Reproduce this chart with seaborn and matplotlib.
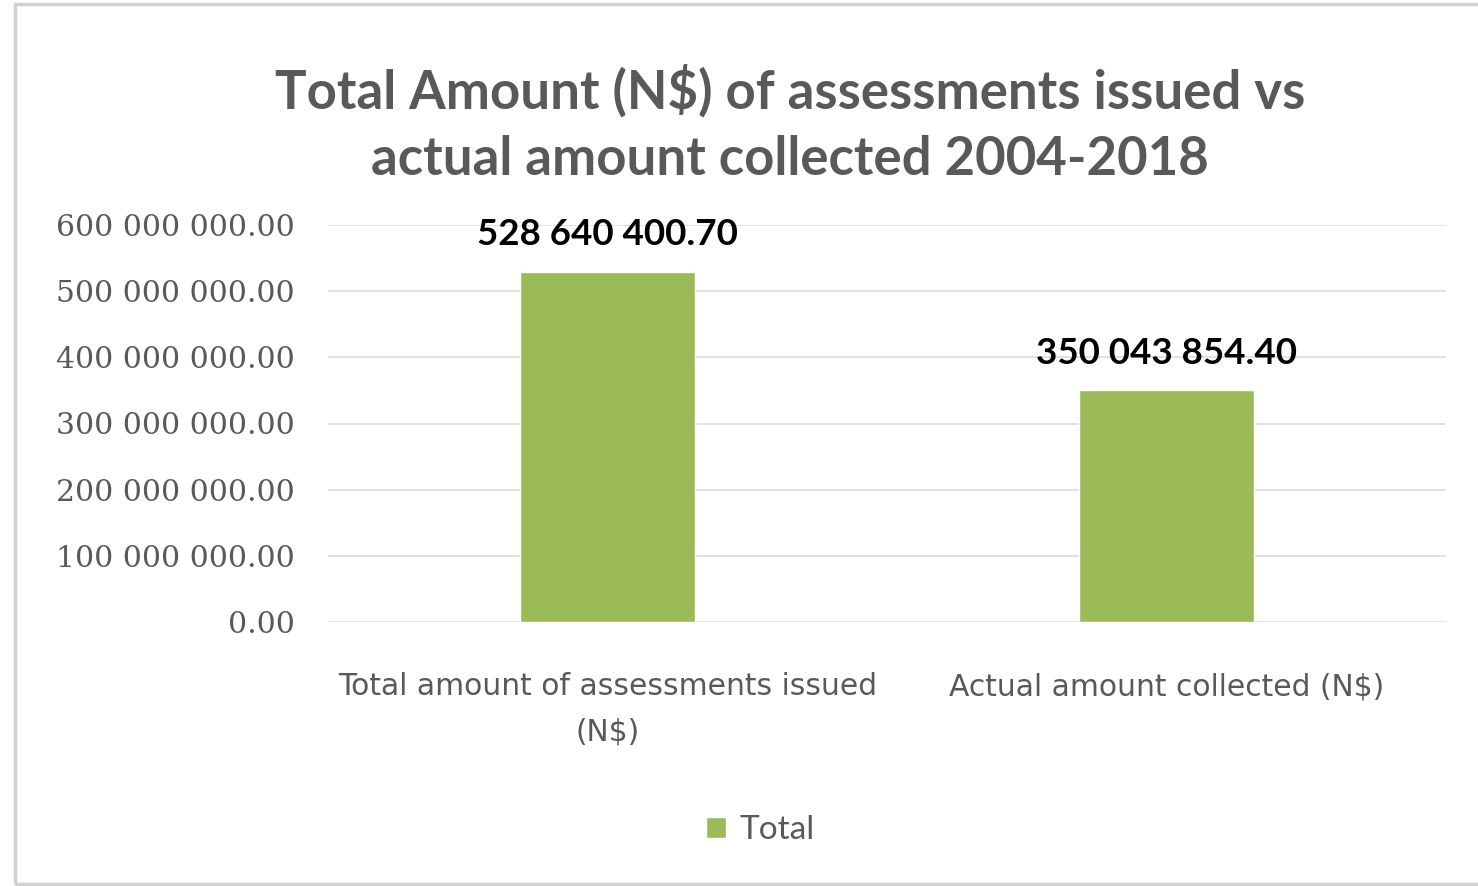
import matplotlib
matplotlib.use("Agg")
import matplotlib.pyplot as plt
import seaborn as sns
import pandas as pd
from matplotlib.ticker import FuncFormatter, MultipleLocator
from matplotlib.patches import Rectangle

categories = ["Total amount of assessments issued\n(N$)", "Actual amount collected (N$)"]
values = [528640400.70, 350043854.40]
series = ["Total", "Total"]
title = "Total Amount (N$) of assessments issued vs\nactual amount collected 2004-2018"

green = "#9BBB59"
gray_text = "#595959"
grid_col = "#D9D9D9"

sns.set_theme(style="white")
plt.rcParams["font.family"] = ["Lato", "DejaVu Sans"]

df = pd.DataFrame({"cat": categories, "val": values, "series": series})

fig = plt.figure(figsize=(14.78, 8.86), dpi=100)
fig.patch.set_facecolor("white")
fig.patches.append(Rectangle((15/1478, 0.002), 1 - 15/1478 + 0.01, 1 - 0.002 - 4/886,
                             transform=fig.transFigure, fill=False,
                             edgecolor="#D0D0D0", linewidth=2.5, zorder=-1))

ax = fig.add_axes([328/1478, 1 - 622/886, (1446 - 328)/1478, (622 - 225)/886])
sns.barplot(data=df, x="cat", y="val", hue="series", palette={"Total": green},
            width=0.313, dodge=False, ax=ax, saturation=1)

ax.set_ylim(0, 600e6)
ax.set_xlim(-0.5, 1.5)
ax.yaxis.set_major_locator(MultipleLocator(100e6))
ax.yaxis.set_major_formatter(FuncFormatter(lambda v, p: f"{v:,.2f}".replace(",", " ")))
ax.grid(axis="y", color=grid_col, linewidth=1.1)
ax.set_axisbelow(True)
for s in ax.spines.values():
    s.set_visible(False)
ax.set_xlabel("")
ax.set_ylabel("")
ax.tick_params(axis="y", length=0, pad=24, labelsize=21.5, labelcolor=gray_text)
for lab in ax.get_yticklabels():
    lab.set_fontfamily(["DejaVu Serif"])
ax.tick_params(axis="x", length=0, pad=36, labelsize=21.4, labelcolor=gray_text)
for lab in ax.get_xticklabels():
    lab.set_fontfamily(["DejaVu Sans"])
    lab.set_linespacing(1.7)

for c in ax.containers:
    ax.bar_label(c, labels=[f"{v:,.2f}".replace(",", " ") for v in values],
                 padding=15, fontsize=26.5, fontweight="bold", color="black")

fig.text(790/1478, 1 - 124/886, title, ha="center", va="center", fontsize=38,
         fontweight="bold", color=gray_text, linespacing=1.45)

sns.move_legend(ax, "center", bbox_to_anchor=(760/1478, 1 - 830/886), bbox_transform=fig.transFigure,
                frameon=False, title=None, fontsize=24, handlelength=0.6, handleheight=0.6,
                handletextpad=0.4, labelcolor=gray_text)

fig.savefig("out.png", dpi=100, facecolor="white")
